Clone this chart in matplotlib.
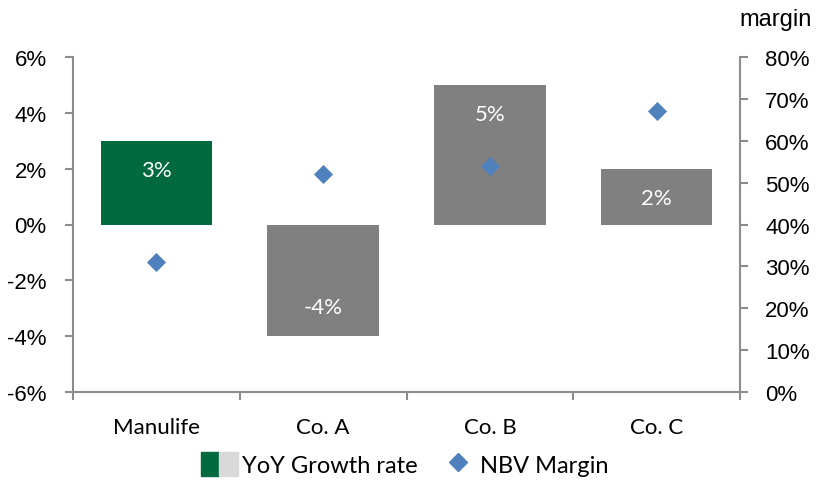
import matplotlib
matplotlib.use("Agg")
import matplotlib.pyplot as plt
from matplotlib.patches import Patch
from matplotlib.lines import Line2D
from matplotlib.legend_handler import HandlerTuple
from matplotlib.ticker import FuncFormatter, FixedLocator

categories = ["Manulife", "Co. A", "Co. B", "Co. C"]
growth = [3, -4, 5, 2]          # YoY growth rate, %
margin = [31, 52, 54, 67]       # NBV margin, %
growth_labels = ["3%", "-4%", "5%", "2%"]

GREEN = "#006A3E"
GRAY = "#808080"
LIGHT = "#D9D9D9"
BLUE = "#4F81BD"
AXC = "#8C8C8C"
TICKFONT = "Liberation Sans"
LABFONT = "Lato"

fig = plt.figure(figsize=(8.19, 4.81), dpi=100)
ax = fig.add_axes([73/819, 1-393/481, (740-73)/819, (393-58)/481])
ax2 = ax.twinx()

x = list(range(len(categories)))
colors = [GREEN] + [GRAY]*(len(categories)-1)
bars = ax.bar(x, growth, width=0.67, color=colors, zorder=2)
ax.set_xlim(-0.5, len(categories)-0.5)
ax.set_ylim(-6, 6)
ax.set_yticks(range(-6, 7, 2))
ax.yaxis.set_major_formatter(FuncFormatter(lambda v, p: f"{v:.0f}%"))

for b, lab, v in zip(bars, growth_labels, growth):
    off = -21 if v > 0 else 21
    ax.annotate(lab, (b.get_x()+b.get_width()/2, v), xytext=(0, off),
                textcoords="offset points", ha="center", va="center",
                color="white", fontsize=16, family=LABFONT, zorder=3)

ax2.scatter(x, margin, marker="D", s=95, color=BLUE, zorder=4, linewidths=0)
ax2.set_ylim(0, 80)
ax2.set_yticks(range(0, 81, 10))
ax2.yaxis.set_major_formatter(FuncFormatter(lambda v, p: f"{v:.0f}%"))

# x axis: category labels, ticks at boundaries
ax.set_xticks(x)
ax.set_xticklabels(categories)
ax.tick_params(axis="x", which="major", length=0, pad=18, labelsize=16)
ax.xaxis.set_minor_locator(FixedLocator([i-0.5 for i in range(len(categories)+1)]))
ax.tick_params(axis="x", which="minor", length=6, width=1.5, color=AXC, direction="out")
for lab in ax.get_xticklabels():
    lab.set_family(LABFONT)

for a in (ax, ax2):
    for s in a.spines.values():
        s.set_visible(False)
ax.spines["left"].set_visible(True)
ax.spines["bottom"].set_visible(True)
ax2.spines["right"].set_visible(True)
for s in (ax.spines["left"], ax.spines["bottom"], ax2.spines["right"]):
    s.set_color(AXC)
    s.set_linewidth(1.5)

ax.tick_params(axis="y", length=6, width=1.5, color=AXC, labelsize=16, pad=13)
ax2.tick_params(axis="y", length=6, width=1.5, color=AXC, labelsize=16, pad=12)
for lab in ax.get_yticklabels() + ax2.get_yticklabels():
    lab.set_family(TICKFONT)

fig.text(776/819, 1-20/481, "margin", ha="center", va="center",
         fontsize=17, family=TICKFONT)

h1 = (Patch(color=GREEN), Patch(color=LIGHT))
h2 = Line2D([], [], marker="D", color=BLUE, linestyle="none", markersize=8.7)
leg = fig.legend([h1, h2], ["YoY Growth rate", "NBV Margin"],
                 handler_map={tuple: HandlerTuple(ndivide=None, pad=0)},
                 loc="center", bbox_to_anchor=(0.494, 1-465/481), ncol=2,
                 frameon=False, prop={"family": LABFONT, "size": 17},
                 handlelength=1.6, handleheight=1.15, handletextpad=0.15,
                 columnspacing=0.9, borderpad=0, borderaxespad=0)

fig.savefig("out.png", dpi=100)
